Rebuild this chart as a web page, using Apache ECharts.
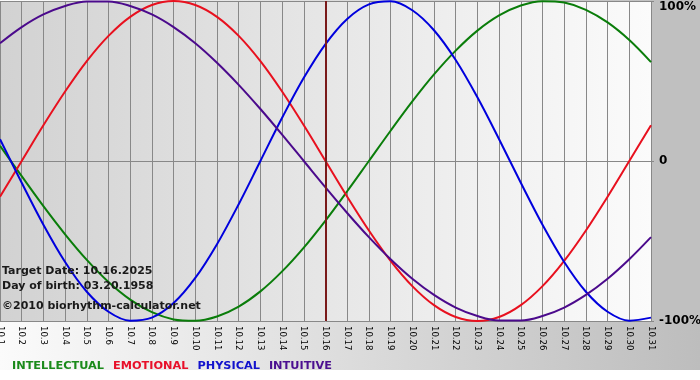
<!DOCTYPE html>
<html>
<head>
<meta charset="utf-8">
<script src="https://cdn.jsdelivr.net/npm/echarts@6/dist/echarts.min.js"></script>
<style>html,body{margin:0;padding:0;background:#fff}#c{width:700px;height:380px}</style>
</head>
<body>
<div id="c"></div>
<script>
const days = ['10.1','10.2','10.3','10.4','10.5','10.6','10.7','10.8','10.9','10.10','10.11','10.12','10.13','10.14','10.15','10.16','10.17','10.18','10.19','10.20','10.21','10.22','10.23','10.24','10.25','10.26','10.27','10.28','10.29','10.30','10.31'];
const intellectual = [0.095,-0.095,-0.282,-0.458,-0.618,-0.756,-0.866,-0.945,-0.990,-0.999,-0.972,-0.910,-0.815,-0.690,-0.541,-0.372,-0.189,0,0.189,0.372,0.541,0.690,0.815,0.910,0.972,0.999,0.990,0.945,0.866,0.756,0.618];
const emotional = [-0.223,0,0.223,0.434,0.624,0.782,0.901,0.975,1,0.975,0.901,0.782,0.624,0.434,0.223,0,-0.223,-0.434,-0.624,-0.782,-0.901,-0.975,-1,-0.975,-0.901,-0.782,-0.624,-0.434,-0.223,0,0.223];
const physical = [0.136,-0.136,-0.398,-0.631,-0.817,-0.942,-0.998,-0.979,-0.888,-0.731,-0.520,-0.270,0,0.270,0.520,0.731,0.888,0.979,0.998,0.942,0.817,0.631,0.398,0.136,-0.136,-0.398,-0.631,-0.817,-0.942,-0.998,-0.979];
const intuitive = [0.736,0.837,0.916,0.969,0.997,0.997,0.969,0.916,0.837,0.736,0.614,0.476,0.325,0.165,0,-0.165,-0.325,-0.476,-0.614,-0.736,-0.837,-0.916,-0.969,-0.997,-0.997,-0.969,-0.916,-0.837,-0.736,-0.614,-0.476];
const targetDay = '10.16';
const infoLines = ['Target Date: 10.16.2025', 'Day of birth: 03.20.1958', '\u00a92010 biorhythm-calculator.net'];
const seriesNames = ['INTELLECTUAL','EMOTIONAL','PHYSICAL','INTUITIVE'];
const lineColors = ['#0a7d0a','#e8101e','#0000dd','#4b0a8c'];
const legendColors = ['#1a8a1a','#e8102a','#1212cc','#4b1090'];

const chart = echarts.init(document.getElementById('c'), null, {renderer:'canvas'});
const dataSets = [intellectual, emotional, physical, intuitive];
const series = seriesNames.map((n,i)=>({
  name:n, type:'line', data:dataSets[i], smooth:0.35, symbol:'none',
  lineStyle:{color:lineColors[i], width:2}, itemStyle:{color:lineColors[i]},
  z: 3, animation:false,
  markLine: i===0 ? {symbol:'none', silent:true, label:{show:false},
    lineStyle:{color:'#7a1a1a', width:2, type:'solid'}, data:[{xAxis:targetDay}]} : undefined
}));
chart.setOption({
  animation:false,
  backgroundColor:'#ffffff',
  graphic:[
    {type:'rect', z:-100, shape:{x:0,y:0,width:700,height:370},
     style:{fill:new echarts.graphic.LinearGradient(0,0,1,0,[{offset:0,color:'#fbfbfb'},{offset:1,color:'#bdbdbd'}])}},
    {type:'rect', z:-99, shape:{x:651,y:0,width:49,height:321}, style:{fill:'#c0c0c0'}},
    ...infoLines.map((t,i)=>({type:'text', z:10, left:2, top:[266,281,301][i],
      style:{text:t, fill:'#1a1a1a', font:'bold 11px "DejaVu Sans"'}}))
  ],
  grid:{left:0, top:1, width:651, height:320, show:true, borderWidth:0, containLabel:false, outerBoundsMode:'none',
    backgroundColor:new echarts.graphic.LinearGradient(0,0,1,0,[{offset:0,color:'#d2d2d2'},{offset:1,color:'#fbfbfb'}])},
  legend:{left:2, top:354, icon:'none', itemWidth:0, itemHeight:14, itemGap:4, selectedMode:false,
    textStyle:{fontFamily:'DejaVu Sans', fontWeight:'bold', fontSize:11.3},
    data:seriesNames.map((n,i)=>({name:n, textStyle:{color:legendColors[i]}}))},
  xAxis:{type:'category', data:days, boundaryGap:false,
    axisLine:{show:true, lineStyle:{color:'#888888', width:1}},
    axisTick:{show:true, interval:0, length:3, lineStyle:{color:'#888888'}},
    splitLine:{show:true, interval:0, lineStyle:{color:'#888888', width:1}},
    axisLabel:{interval:0, rotate:-90, margin:5, color:'#000', hideOverlap:false, fontFamily:'"DejaVu Sans Condensed","DejaVu Sans"', fontSize:9.5}},
  yAxis:{type:'value', position:'right', min:-1, max:1, interval:1,
    axisLine:{show:false},
    axisTick:{show:true, length:3, lineStyle:{color:'#888888'}},
    splitLine:{show:true, lineStyle:{color:'#888888', width:1}},
    axisLabel:{margin:8, color:'#000', fontFamily:'DejaVu Sans', fontWeight:'bold', fontSize:12,
      formatter:v=> v===1 ? '{t|100%}' : (v===0 ? '0' : '-100%'),
      rich:{t:{padding:[12,0,0,0], fontFamily:'DejaVu Sans', fontWeight:'bold', fontSize:12, color:'#000'}}}},
  series:series
});
</script>
</body>
</html>
